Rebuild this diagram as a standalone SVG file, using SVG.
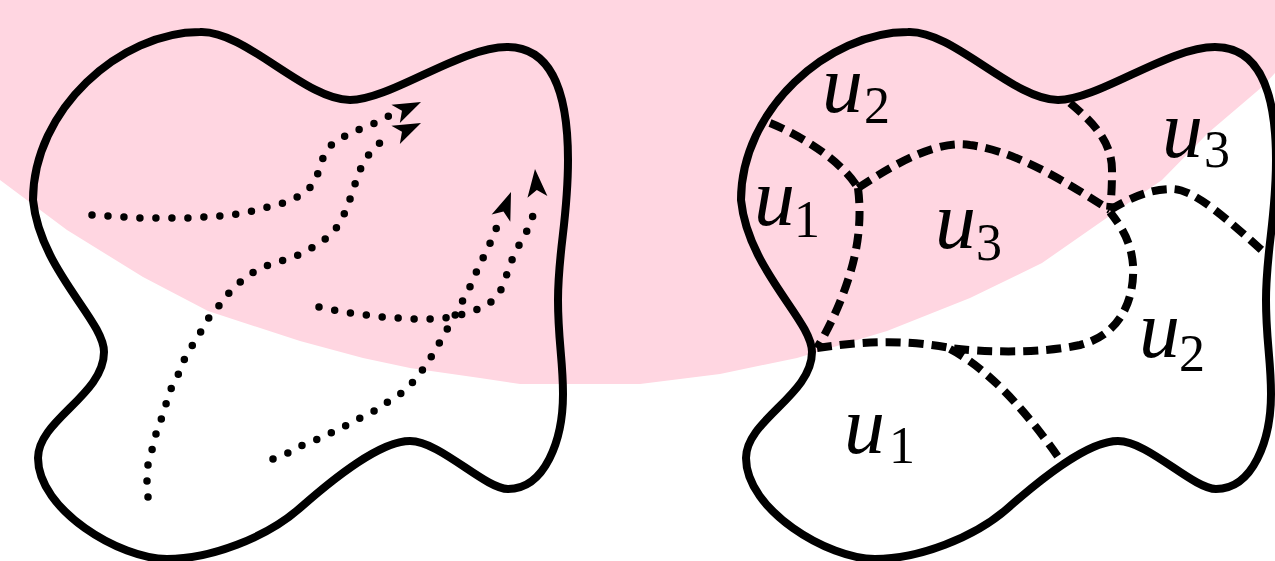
<svg xmlns="http://www.w3.org/2000/svg" xmlns:xlink="http://www.w3.org/1999/xlink" width="1275" height="561" viewBox="0 0 1275 561">
<style>
.blob{fill:none;stroke:#000;stroke-width:8;stroke-linejoin:round}
.dot{fill:none;stroke:#000;stroke-width:7.5;stroke-linecap:round;stroke-linejoin:round;stroke-dasharray:0 16}
.dash{fill:none;stroke:#000;stroke-width:8;stroke-dasharray:15 8}
.m{font-family:"Liberation Serif",serif;font-style:italic;font-size:82px;fill:#000}
.s{font-family:"Liberation Serif",serif;font-style:normal;font-size:52px}
</style>
<defs>
<path id="blobShape" d="M200,32 C245,30 305,100 350,100 C390,100 460,47 507,47 C545,47 568,80 568,160 C568,220 558,250 558,300 C558,340 563,360 563,394 C563,440 545,489 508,489 C485,489 440,441 410,441 C380,441 334,478 300,508 C266,538 210,559 167,559 C120,559 38,510 38,458 C38,420 104,395 104,352 C104,320 40,270 33,200 C33,110 120,32 200,32 Z"/>
<path id="ah" d="M0,0 L-28,-10 L-21,0 L-28,10 Z" fill="#000"/>
</defs>
<rect width="1275" height="561" fill="#fff"/>
<path id="pink" fill="#ffd6e1" d="M0,0 L0,180 L67,230 L143,277 L208,311 L300,341 L363,358 L410,368 L480,378 L520,384 L640,384 L720,374 L797,358 L887,331 L970,298 L1042,263 L1108,217 L1162,180 L1208,133 L1262,87 L1275,73 L1275,0 Z"/>
<g id="blob-left"><use xlink:href="#blobShape" class="blob"/></g>
<g id="blob-right"><use xlink:href="#blobShape" class="blob" transform="translate(708,0)"/></g>
<g id="connectors">
<g id="dotted-paths">
<polyline class="dot" points="92,215 108,216 124,217 140,218 156,218 172,218 188,218 204,217 220,216 237,214 253,211 268,207 283,203 297,197 309,189 315,180 318,173 323,158 332,144 345,136 360,129 375,123 389,116"/>
<polyline class="dot" points="148,497 147,481 148,465 152,450 156,434 161,420 166,404 171,389 178,375 184,360 192,346 200,333 208,319 218,307 228,294 239,283 252,273 266,266 281,261 296,256 310,249 323,241 335,230 343,217 349,202 354,187 359,172 366,158 376,146 389,136"/>
<polyline class="dot" points="273,459 288,453 303,445 318,439 333,432 347,425 362,417 376,410 389,401 403,392 414,381 424,368 433,354 441,340 449,326 457,312 464,298 472,283 478,268 485,254 492,239 498,224"/>
<polyline class="dot" points="319,307 334,310 350,313 366,315 382,317 397,318 413,319 429,319 445,318 460,315 476,310 490,303 500,292 506,277 511,262 518,247 526,233 532,219 536,203"/>
<use xlink:href="#ah" transform="translate(421,102) rotate(-25)"/>
<use xlink:href="#ah" transform="translate(421,123) rotate(-25)"/>
<use xlink:href="#ah" transform="translate(511,192) rotate(-69)"/>
<use xlink:href="#ah" transform="translate(535,169) rotate(-95)"/>
</g>
<g id="dashed-partition">
<path class="dash" d="M770,123 C795,133 840,158 858,188"/>
<path class="dash" d="M858,188 C900,160 940,140 970,145 C1020,152 1070,185 1110,210"/>
<path class="dash" d="M1070,103 C1090,120 1112,140 1112,170 C1112,190 1111,200 1110,210"/>
<path class="dash" d="M1110,210 C1130,198 1150,189 1172,189 C1195,189 1230,222 1265,253"/>
<path class="dash" d="M858,188 C862,220 858,250 848,280 C840,305 828,330 817,348"/>
<path class="dash" d="M817,348 C850,343 900,338 950,348 C980,352 1040,354 1080,345 C1120,335 1135,300 1133,265 C1131,240 1120,225 1110,212"/>
<path class="dash" d="M950,349 C975,362 1000,385 1020,408 C1035,425 1050,445 1061,461"/>
</g>
</g>
<g id="labels">
<text class="m" x="822" y="112">u<tspan class="s" x="864" y="123">2</tspan></text>
<text class="m" x="754" y="225">u<tspan class="s" x="794" y="237">1</tspan></text>
<text class="m" x="935" y="248">u<tspan class="s" x="976" y="260">3</tspan></text>
<text class="m" x="1162" y="157">u<tspan class="s" x="1204" y="167">3</tspan></text>
<text class="m" x="1139" y="357">u<tspan class="s" x="1179" y="371">2</tspan></text>
<text class="m" x="844" y="453">u<tspan class="s" x="889" y="463">1</tspan></text>
</g>
</svg>
